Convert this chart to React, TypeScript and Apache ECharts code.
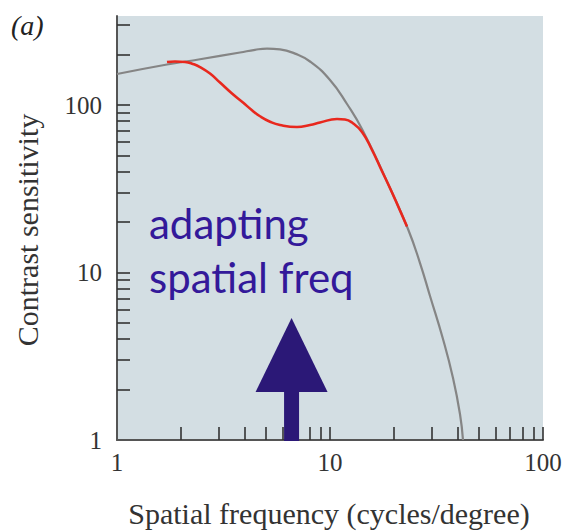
import React, { useEffect, useRef } from "react";
import * as echarts from "echarts";

// Gray curve: unadapted contrast sensitivity function
const grayFreq = [1, 1.717, 2.453, 3.78, 4.446, 5.061, 5.825, 6.85, 8.055, 10, 12.02, 14.29, 19.12, 23.24, 26.46, 29.48, 33.92, 37.8, 40.76, 42.11];
const graySens = [153.1, 174.5, 187.7, 205.8, 213.6, 217.1, 214.8, 202.7, 181.9, 141.1, 101.4, 69.96, 31.95, 18.18, 11.39, 7.24, 4.01, 2.345, 1.43, 1];

// Red curve: after adaptation
const redFreq = [1.717, 1.872, 2.086, 2.274, 2.453, 2.733, 3.045, 3.467, 3.904, 4.303, 4.692, 5.228, 5.825, 7.0, 8.055, 8.978, 10.79, 11.76, 12.69, 14.13, 15.75, 17.35, 19.12, 20.86, 22.99];
const redSens = [180.6, 181.9, 180.6, 175.7, 168.6, 154.2, 136.2, 117.1, 103.5, 93.1, 85.7, 79.5, 75.96, 73.9, 75.96, 78.6, 82.5, 82.0, 78.6, 69.0, 53.9, 41.5, 31.95, 24.95, 18.82];

// Axis ticks and labels
const xTickValues = [2, 3, 4, 5, 6, 7, 8, 9, 10, 20, 30, 40, 50, 60, 70, 80, 90, 100];
const yTickValues = [2, 3, 4, 5, 6, 7, 8, 9, 10, 20, 30, 40, 50, 60, 70, 80, 90, 100, 200, 300];
const xLabelValues = [1, 10, 100];
const yLabelValues = [1, 10, 100];

// Adapting frequency marker
const arrowFreq = 6.6;

const serif = "'Liberation Serif', 'Times New Roman', serif";

export default function App() {
  const ref = useRef<HTMLDivElement>(null);
  useEffect(() => {
    if (!ref.current) return;
    const chart = echarts.init(ref.current, undefined, { renderer: "svg" });
    const isPow10 = (v: number) => Math.abs(Math.log10(v) - Math.round(Math.log10(v))) < 1e-6;
    chart.setOption({
      animation: false,
      backgroundColor: "#ffffff",
      grid: {
        left: 117,
        right: 20,
        top: 16,
        bottom: 91,
        show: true,
        backgroundColor: "#d3dee3",
        borderWidth: 0,
        outerBoundsMode: "none",
      },
      xAxis: {
        type: "log",
        logBase: 10,
        min: 1,
        max: 100,
        axisLine: { show: true, lineStyle: { color: "#555555", width: 2 } },
        axisTick: {
          show: true,
          inside: true,
          length: 13,
          customValues: xTickValues,
          lineStyle: { color: "#333333", width: 1.6 },
        },
        axisLabel: {
          customValues: xLabelValues,
          formatter: (v: number) => (isPow10(v) ? String(Math.round(v)) : ""),
          fontFamily: serif,
          fontSize: 25,
          color: "#333333",
          margin: 10,
        },
        splitLine: { show: false },
        minorTick: { show: false },
      },
      yAxis: {
        type: "log",
        logBase: 10,
        min: 1,
        max: 340,
        axisLine: { show: true, lineStyle: { color: "#555555", width: 2 } },
        axisTick: {
          show: true,
          inside: true,
          length: 13,
          customValues: yTickValues,
          lineStyle: { color: "#333333", width: 1.6 },
        },
        axisLabel: {
          customValues: yLabelValues,
          formatter: (v: number) => (isPow10(v) ? String(Math.round(v)) : ""),
          fontFamily: serif,
          fontSize: 25,
          color: "#333333",
          margin: 15,
        },
        splitLine: { show: false },
      },
      series: [
        {
          type: "line",
          data: grayFreq.map((x, i) => [x, graySens[i]]),
          showSymbol: false,
          smooth: 0.5,
          lineStyle: { color: "#858585", width: 2.2 },
          z: 3,
        },
        {
          type: "line",
          data: redFreq.map((x, i) => [x, redSens[i]]),
          showSymbol: false,
          smooth: 0.5,
          lineStyle: { color: "#e8281e", width: 2.6 },
          z: 4,
        },
        {
          type: "custom",
          coordinateSystem: "cartesian2d",
          data: [[arrowFreq, 1]],
          silent: true,
          z: 5,
          renderItem: (params: any, api: any) => {
            const p = api.coord([api.value(0), api.value(1)]);
            const cx = p[0];
            const by = p[1];
            const fill = "#2b1877";
            return {
              type: "group",
              children: [
                {
                  type: "polygon",
                  shape: { points: [[cx, by - 122], [cx - 36, by - 48], [cx + 36, by - 48]] },
                  style: { fill },
                },
                {
                  type: "rect",
                  shape: { x: cx - 7.5, y: by - 49, width: 15, height: 50 },
                  style: { fill },
                },
              ],
            };
          },
        },
      ],
      graphic: [
        {
          type: "text",
          x: 11,
          y: 25,
          style: {
            text: "(a)",
            fontFamily: serif,
            fontStyle: "italic",
            fontSize: 28,
            fill: "#222222",
            textVerticalAlign: "middle",
          },
        },
        {
          type: "text",
          x: 27,
          y: 230,
          rotation: Math.PI / 2,
          style: {
            text: "Contrast sensitivity",
            fontFamily: serif,
            fontSize: 30,
            fill: "#333333",
            textAlign: "center",
            textVerticalAlign: "middle",
          },
        },
        {
          type: "text",
          x: 329,
          y: 513,
          style: {
            text: "Spatial frequency (cycles/degree)",
            fontFamily: serif,
            fontSize: 30,
            fill: "#333333",
            textAlign: "center",
            textVerticalAlign: "middle",
          },
        },
        {
          type: "text",
          x: 149,
          y: 223,
          z: 10,
          style: {
            text: "adapting",
            fontFamily: "Lato, sans-serif",
            fontSize: 42,
            fill: "#33199a",
            textVerticalAlign: "middle",
          },
        },
        {
          type: "text",
          x: 149,
          y: 277,
          z: 10,
          style: {
            text: "spatial freq",
            fontFamily: "Lato, sans-serif",
            fontSize: 42,
            fill: "#33199a",
            textVerticalAlign: "middle",
          },
        },
      ],
    });
    return () => chart.dispose();
  }, []);
  return <div ref={ref} style={{ width: 563, height: 531, position: "absolute", left: 0, top: 0 }} />;
}
